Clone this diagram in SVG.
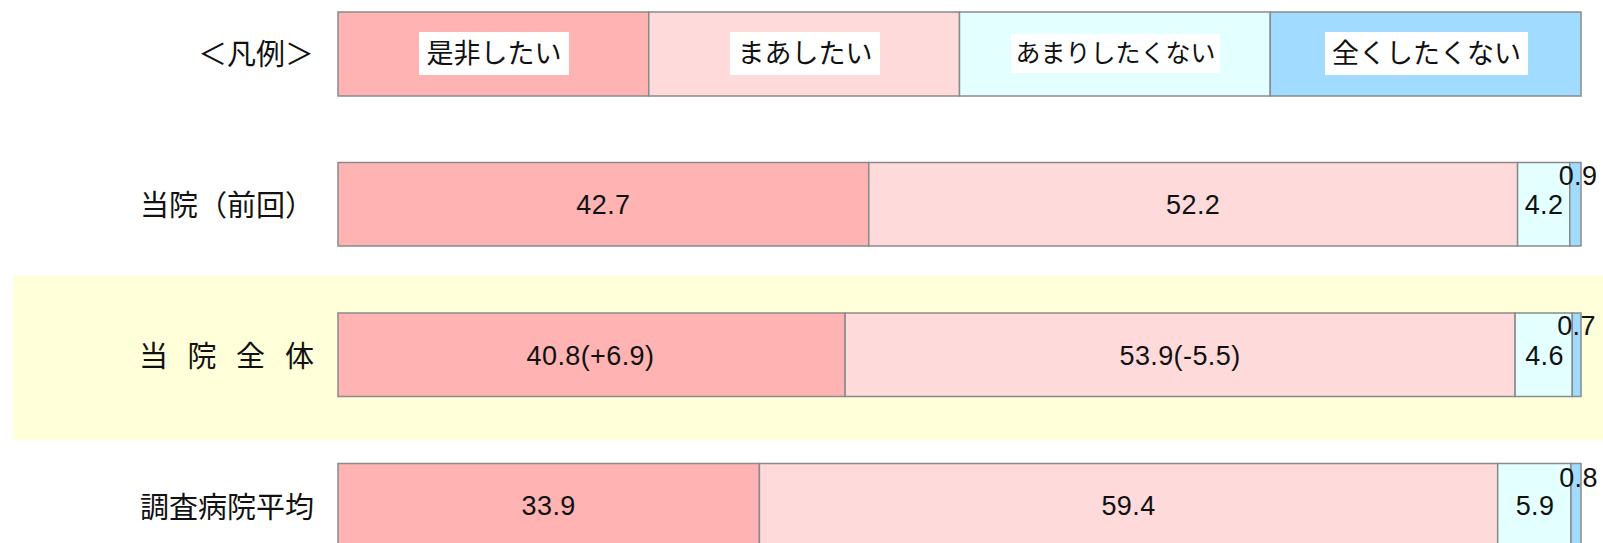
<svg xmlns="http://www.w3.org/2000/svg" width="1603" height="543" viewBox="0 0 1603 543">
<style>
.s1{fill:#FFB3B3}
.s2{fill:#FFDADA}
.s3{fill:#E3FFFF}
.s4{fill:#A1DBFF}
.seg{stroke:#8A8A8A;stroke-width:1.5}
.lbl{font-family:"Noto Sans CJK JP","Noto Sans CJK SC",sans-serif;font-size:29px;fill:#111;text-anchor:end}
.leg{font-family:"Noto Sans CJK JP","Noto Sans CJK SC",sans-serif;font-size:27px;fill:#111;text-anchor:middle}
.wb{fill:#FFFFFF}
.num{font-family:"Liberation Sans",Arial,sans-serif;font-size:27px;fill:#111;text-anchor:middle;letter-spacing:0.4px}
</style>
<rect x="13" y="275.5" width="1590" height="164.5" fill="#FFFFDA"/>
<g id="legend">
  <text class="lbl" x="314" y="65">＜凡例＞</text>
  <rect class="s1 seg" x="338" y="12" width="310.75" height="84"/>
  <rect class="s2 seg" x="648.75" y="12" width="310.75" height="84"/>
  <rect class="s3 seg" x="959.5" y="12" width="310.75" height="84"/>
  <rect class="s4 seg" x="1270.25" y="12" width="310.75" height="84"/>
  <rect class="wb" x="419" y="32" width="150" height="43"/>
  <text class="leg" x="494" y="63">是非したい</text>
  <rect class="wb" x="730" y="32" width="150" height="43"/>
  <text class="leg" x="805" y="63">まあしたい</text>
  <rect class="wb" x="1011" y="34" width="209" height="39"/>
  <text class="leg" x="1115.5" y="62" style="font-size:25px">あまりしたくない</text>
  <rect class="wb" x="1325" y="32" width="203" height="43"/>
  <text class="leg" x="1426.5" y="63">全くしたくない</text>
</g>
<g id="row-previous">
  <text class="lbl" x="314" y="216">当院（前回）</text>
  <rect class="s1 seg" x="338" y="162.5" width="530.8" height="83.5"/>
  <rect class="s2 seg" x="868.8" y="162.5" width="648.8" height="83.5"/>
  <rect class="s3 seg" x="1517.6" y="162.5" width="52.2" height="83.5"/>
  <rect class="s4 seg" x="1569.8" y="162.5" width="11.2" height="83.5"/>
  <text class="num" x="603.4" y="214">42.7</text>
  <text class="num" x="1193.2" y="214">52.2</text>
  <text class="num" x="1544" y="214">4.2</text>
  <text class="num" x="1578" y="185">0.9</text>
</g>
<g id="row-total">
  <text class="lbl" y="367" style="text-anchor:start"><tspan x="139">当</tspan><tspan x="187.5">院</tspan><tspan x="236">全</tspan><tspan x="285">体</tspan></text>
  <rect class="s1 seg" x="338" y="313" width="507.1" height="83.5"/>
  <rect class="s2 seg" x="845.1" y="313" width="670" height="83.5"/>
  <rect class="s3 seg" x="1515.1" y="313" width="57.2" height="83.5"/>
  <rect class="s4 seg" x="1572.3" y="313" width="8.7" height="83.5"/>
  <text class="num" x="590.5" y="365">40.8(+6.9)</text>
  <text class="num" x="1180" y="365">53.9(-5.5)</text>
  <text class="num" x="1544.5" y="365">4.6</text>
  <text class="num" x="1576.5" y="335">0.7</text>
</g>
<g id="row-average">
  <text class="lbl" x="314" y="518">調査病院平均</text>
  <rect class="s1 seg" x="338" y="463.5" width="421.4" height="83.5"/>
  <rect class="s2 seg" x="759.4" y="463.5" width="738.3" height="83.5"/>
  <rect class="s3 seg" x="1497.7" y="463.5" width="73.3" height="83.5"/>
  <rect class="s4 seg" x="1571" y="463.5" width="10" height="83.5"/>
  <text class="num" x="548.7" y="515">33.9</text>
  <text class="num" x="1128.5" y="515">59.4</text>
  <text class="num" x="1535" y="515">5.9</text>
  <text class="num" x="1578.5" y="487">0.8</text>
</g>
</svg>
